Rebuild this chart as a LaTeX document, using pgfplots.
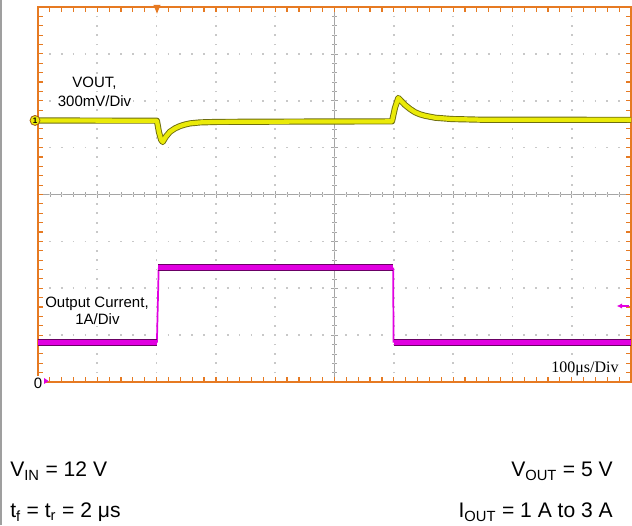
\documentclass[border=0pt]{standalone}
\usepackage{fontspec}
\setmainfont{Liberation Sans}
\newfontfamily\timesfont{Liberation Serif}
\usepackage{pgfplots}
\usepackage{pgfplotstable}
\pgfplotsset{compat=1.18}
\usetikzlibrary{arrows.meta}
\definecolor{scopeorange}{RGB}{230,122,34}
\definecolor{traceyellow}{RGB}{234,234,8}
\definecolor{yellowedge}{RGB}{110,110,15}
\definecolor{tracemag}{RGB}{225,0,225}
\definecolor{magedge}{RGB}{105,0,100}
\definecolor{griddot}{RGB}{200,200,200}
\definecolor{crossgray}{RGB}{165,165,165}

% VOUT trace, in divisions (x: 0..10, y: 0..8)
\pgfplotstableread{
x y
0 5.58
1.00 5.576
2.005 5.575
2.04 5.33
2.075 5.17
2.103 5.12
2.13 5.18
2.16 5.24
2.226 5.34
2.31 5.41
2.395 5.46
2.48 5.493
2.563 5.517
2.732 5.538
3.013 5.548
3.575 5.552
5.0 5.558
5.97 5.56
6.02 5.85
6.076 6.06
6.121 6.00
6.189 5.91
6.273 5.825
6.358 5.755
6.442 5.71
6.526 5.68
6.695 5.638
6.976 5.61
7.454 5.596
10 5.592
}\vouttable

\begin{document}
\begin{tikzpicture}
\useasboundingbox (0,0) rectangle (474pt,393.75pt);
\draw[gray!75, line width=1.2pt] (0.6pt,0) -- (0.6pt,393.75pt);

% centre cross of the screen
\begin{axis}[
    scale only axis, width=444.75pt, height=281.25pt,
    at={(28.5pt,107.25pt)}, anchor=south west,
    xmin=-5, xmax=5, ymin=-4, ymax=4,
    axis lines=middle,
    axis line style={-, draw=crossgray, line width=0.6pt},
    xtick={-5,...,5}, ytick={-4,...,4}, minor tick num=4,
    xticklabels={}, yticklabels={},
    tick align=center,
    tick style={draw=crossgray, line width=0.5pt},
    major tick length=5pt, minor tick length=3.5pt,
]
\end{axis}

\begin{axis}[
    scale only axis, width=444.75pt, height=281.25pt,
    at={(28.5pt,107.25pt)}, anchor=south west,
    xmin=0, xmax=10, ymin=0, ymax=8,
    clip=false,
    xtick={0,...,10}, ytick={0,...,8}, minor tick num=4,
    xticklabels={}, yticklabels={},
    xtick pos=both, ytick pos=both, tick align=inside,
    axis line style={draw=scopeorange, line width=1.5pt},
    tick style={draw=scopeorange, line width=0.9pt},
    major tick length=4pt, minor tick length=3.5pt,
    grid=major,
    x grid style={draw=griddot, line width=1.3pt, dash pattern=on 1.3pt off 5.73pt, dash phase=0.65pt},
    y grid style={draw=griddot, line width=1.3pt, dash pattern=on 1.3pt off 7.595pt, dash phase=0.65pt},
]
% output current (magenta)
\addplot[tracemag, line width=1.3pt] coordinates {(2.005,0.84) (2.035,2.44)};
\addplot[tracemag, line width=1.3pt] coordinates {(5.99,2.44) (5.995,0.84)};
\addplot[magedge, line width=4.8pt] coordinates {(0,0.84) (2.005,0.84)};
\addplot[tracemag, line width=3.2pt] coordinates {(0,0.84) (2.005,0.84)};
\addplot[magedge, line width=4.8pt] coordinates {(2.03,2.44) (5.99,2.44)};
\addplot[tracemag, line width=3.2pt] coordinates {(2.03,2.44) (5.99,2.44)};
\addplot[magedge, line width=4.8pt] coordinates {(5.995,0.84) (10,0.84)};
\addplot[tracemag, line width=3.2pt] coordinates {(5.995,0.84) (10,0.84)};
% output voltage (yellow)
\addplot[yellowedge, line width=4.6pt, line join=round] table[x=x,y=y] {\vouttable};
\addplot[traceyellow, line width=3.2pt, line join=round] table[x=x,y=y] {\vouttable};

% channel 1 marker
\node[circle, fill=traceyellow, draw=scopeorange!70!black, line width=0.6pt,
      minimum size=7.5pt, inner sep=0pt, font=\fontsize{6}{6}\selectfont\bfseries]
      at (axis cs:-0.05,5.58) {1};
\end{axis}

% trigger position marker
\fill[scopeorange] (115.1pt,390pt) -- (120.4pt,390pt) -- (117.75pt,383.5pt) -- cycle;
% trigger level arrow
\draw[tracemag, line width=1pt, -{Latex[length=4pt,width=4pt]}] (472pt,164.25pt) -- (462.5pt,164.25pt);

% ground marker
\node[fill=white, inner sep=1.6pt, font=\fontsize{11.25}{13}\selectfont] at (28.5pt,106.5pt) {0};
\fill[tracemag] (33pt,110.25pt) -- (33pt,105.75pt) -- (36.4pt,108pt) -- cycle;

% channel labels
\node[fill=white, inner sep=1pt, anchor=base, font=\fontsize{11.25}{13}\selectfont] at (70.9pt,327.75pt) {VOUT,};
\node[fill=white, inner sep=1pt, anchor=base, font=\fontsize{11.25}{13}\selectfont] at (70.9pt,313.5pt) {300mV/Div};
\node[fill=white, inner sep=1pt, anchor=base, font=\fontsize{11.25}{13}\selectfont] at (72.75pt,162.75pt) {Output Current,};
\node[fill=white, inner sep=1pt, anchor=base, font=\fontsize{11.25}{13}\selectfont] at (73.1pt,150pt) {1A/Div};
\node[anchor=base, inner sep=0pt, font=\timesfont\fontsize{12}{14}\selectfont] at (438.75pt,114pt) {100μs/Div};

% test conditions
\node[anchor=base west, inner sep=0pt, font=\fontsize{15.8}{19}\selectfont] at (7.5pt,36pt) {V\textsubscript{IN} = 12 V};
\node[anchor=base west, inner sep=0pt, font=\fontsize{15.8}{19}\selectfont] at (7.5pt,5.4pt) {t\textsubscript{f} = t\textsubscript{r} = 2 μs};
\node[anchor=base east, inner sep=0pt, font=\fontsize{15.8}{19}\selectfont] at (459.75pt,36pt) {V\textsubscript{OUT} = 5 V};
\node[anchor=base east, inner sep=0pt, font=\fontsize{15.8}{19}\selectfont] at (459.75pt,5.4pt) {I\textsubscript{OUT} = 1 A to 3 A};
\end{tikzpicture}
\end{document}
